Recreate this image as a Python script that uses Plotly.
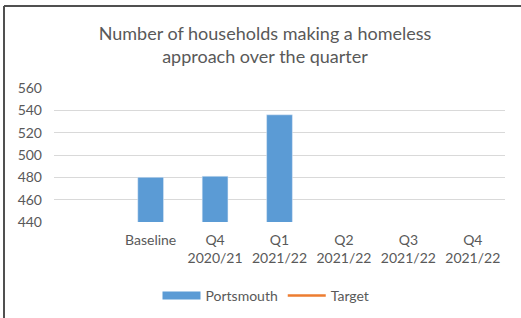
import plotly.graph_objects as go

categories = ["", "Baseline", "Q4<br>2020/21", "Q1<br>2021/22", "Q2<br>2021/22", "Q3<br>2021/22", "Q4<br>2021/22"]
portsmouth = [None, 480, 481, 536, None, None, None]
target = [None, None, None, None, None, None, None]
y_ticks = [440, 460, 480, 500, 520, 540, 560]

xpos = list(range(len(categories)))
grey = "#595959"
font_family = "Lato, 'Open Sans', sans-serif"
bar_color = "#5b9bd5"

fig = go.Figure()
fig.add_trace(go.Bar(x=xpos, y=portsmouth, name="Portsmouth", marker_color=bar_color,
                     width=0.4, base=0, showlegend=False, legendgroup="p"))
# legend proxy for the wide bar swatch
fig.add_trace(go.Scatter(x=[None], y=[None], name="Portsmouth", mode="lines",
                         line=dict(color=bar_color, width=8), legendgroup="p"))
fig.add_trace(go.Scatter(x=xpos, y=target, name="Target", mode="lines",
                         line=dict(color="#ed7d31", width=2.5)))

fig.update_layout(
    width=521, height=318,
    margin=dict(l=54, r=16, t=88, b=96, autoexpand=False),
    paper_bgcolor="white", plot_bgcolor="white",
    font=dict(family=font_family, color=grey, size=14),
    title=dict(text="Number of households making a homeless<br>approach over the quarter",
               x=265 / 521, xref="container", xanchor="center", yref="container",
               y=1 - 39.5 / 318, yanchor="middle",
               font=dict(size=18, color=grey, family=font_family)),
    showlegend=True,
    legend=dict(orientation="h", xref="container", x=266 / 521, xanchor="center",
                yref="container", y=1 - 296 / 318, yanchor="middle",
                font=dict(size=14, color=grey), itemwidth=38, tracegroupgap=0),
)
fig.update_xaxes(tickmode="array", tickvals=xpos, ticktext=categories,
                 range=[-0.5, len(categories) - 0.5], showgrid=False, zeroline=False,
                 showline=False, ticks="", automargin=False, ticklabelstandoff=8,
                 tickfont=dict(size=14, color=grey))
fig.update_yaxes(range=[440, 560], tickvals=y_ticks, showgrid=True, gridcolor="#d9d9d9",
                 gridwidth=1, zeroline=False, showline=False, ticks="", automargin=False,
                 ticklabelstandoff=11, tickfont=dict(size=14, color=grey))

# outer chart border (top and left edges visible)
fig.add_shape(type="line", xref="paper", yref="paper", x0=-50/451, x1=1 + 30/451,
              y0=1 + (88 - 6) / 134, y1=1 + (88 - 6) / 134, line=dict(color="#505050", width=2))
fig.add_shape(type="line", xref="paper", yref="paper", x0=-50/451, x1=-50/451,
              y0=1 + (88 - 6) / 134, y1=-(318 - 222) / 134 - 0.05, line=dict(color="#505050", width=2))

fig.write_html("out.html", config={"displayModeBar": False},
               post_script="document.body.style.margin='0';")
